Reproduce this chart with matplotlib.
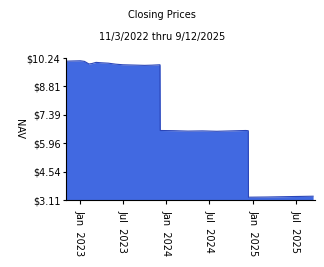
import numpy as np
import matplotlib
matplotlib.use("Agg")
import matplotlib.pyplot as plt
import matplotlib.dates as mdates
from datetime import date

# closing NAV
dates = ["2022-11-03", "2022-12-01", "2023-01-03", "2023-01-20", "2023-02-08",
         "2023-02-20", "2023-03-10", "2023-04-01", "2023-05-01", "2023-06-01",
         "2023-07-01", "2023-08-01", "2023-09-01", "2023-10-01", "2023-11-01",
         "2023-12-05", "2023-12-06", "2024-02-01", "2024-04-01", "2024-06-01",
         "2024-08-01", "2024-10-01", "2024-12-01", "2024-12-12", "2024-12-13",
         "2025-03-01", "2025-06-01", "2025-09-12"]
nav = [10.08, 10.09, 10.10, 10.07, 9.94,
       9.96, 10.02, 10.00, 9.98, 9.93,
       9.90, 9.89, 9.88, 9.87, 9.88,
       9.90, 6.60, 6.59, 6.57, 6.58,
       6.56, 6.58, 6.60, 6.59, 3.25,
       3.26, 3.28, 3.30]
yticks = [3.11, 4.54, 5.96, 7.39, 8.81, 10.24]
xtick_dates = ["2023-01-01", "2023-07-01", "2024-01-01", "2024-07-01",
               "2025-01-01", "2025-07-01"]
xtick_labels = ["Jan  2023", "Jul  2023", "Jan  2024", "Jul  2024",
                "Jan  2025", "Jul  2025"]

x = [date.fromisoformat(d) for d in dates]
xt = [date.fromisoformat(d) for d in xtick_dates]

fig = plt.figure(figsize=(3.24, 2.67), dpi=100)
ax = fig.add_axes([66/324, 1 - 200/267, 249/324, 142/267])

ax.fill_between(x, yticks[0], nav, color="#4169e1", linewidth=0)
ax.plot(x, nav, color="#2a45b8", linewidth=0.8)

ax.set_ylim(yticks[0], yticks[-1])
ax.set_xlim(x[0], date(2025, 9, 20))
ax.set_yticks(yticks)
ax.set_yticklabels(["$%.2f" % v for v in yticks], fontsize=7)
ax.set_xticks(xt)
ax.set_xticklabels(xtick_labels, rotation=-90, fontsize=7)
ax.tick_params(axis="y", length=2, pad=2)
ax.tick_params(axis="x", length=3, pad=4)
for s in ["top", "right"]:
    ax.spines[s].set_visible(False)
ax.set_ylabel("NAV", rotation=-90, fontsize=7, labelpad=9)

fig.text(0.5, 1 - 15/267, "Closing Prices", ha="center", va="center", fontsize=7)
fig.text(0.5, 1 - 37/267, "11/3/2022 thru 9/12/2025", ha="center", va="center",
         fontsize=7)

fig.savefig("out.png", dpi=100)
